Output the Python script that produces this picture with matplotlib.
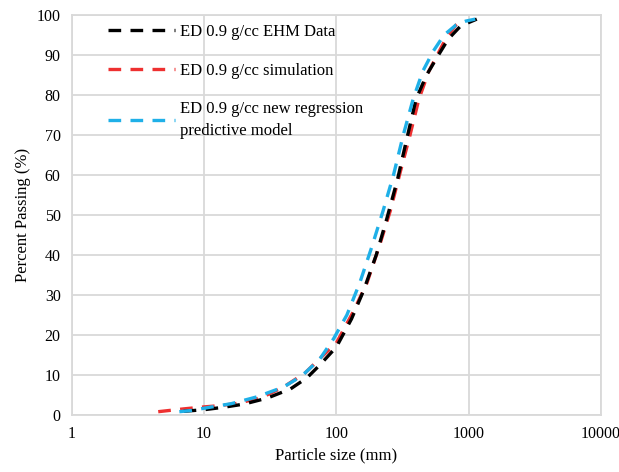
import matplotlib
matplotlib.use('Agg')
import matplotlib.pyplot as plt
from matplotlib.ticker import FixedLocator, FixedFormatter, NullLocator

# EHM data
ehm_x = [7, 10, 14, 20, 30, 45, 60, 75, 100, 130, 160, 200, 240, 290, 340, 400, 480, 590, 700, 870, 1150]
ehm_y = [0.9, 1.3, 1.9, 2.7, 4.2, 6.5, 9.3, 12.5, 17, 24, 31, 40, 49, 59, 69, 79, 85, 90, 94, 97.3, 99]

# simulation
sim_x = [4.5, 7, 10, 13, 18, 27, 40, 58, 80, 100, 135, 170, 210, 255, 305, 360, 420, 500, 600, 680, 800, 900]
sim_y = [0.8, 1.5, 2.0, 2.3, 2.9, 4.3, 7, 10.5, 15, 18, 26, 33, 42, 51, 61, 70, 79, 86, 91, 94.5, 97.5, 99]

# new regression predictive model
reg_x = [6.5, 8, 11, 16, 25, 40, 55, 75, 95, 120, 150, 185, 225, 270, 320, 380, 450, 540, 650, 800, 950, 1120]
reg_y = [0.8, 1.1, 1.9, 2.8, 4.5, 7, 9.8, 14, 19, 25, 33, 42, 51, 60, 70, 79, 86, 91, 95, 97.5, 98.5, 99]

x_ticks = [1, 10, 100, 1000, 10000]
x_labels = ['1', '10', '100', '1000', '10000']
y_ticks = list(range(0, 101, 10))

plt.rcParams['font.family'] = ['Liberation Serif', 'DejaVu Serif']

fig, ax = plt.subplots(figsize=(6.19, 4.72), dpi=100)
fig.subplots_adjust(left=0.116, right=0.971, top=0.968, bottom=0.121)

dash = (3.8, 2.8)
ax.plot(ehm_x, ehm_y, color='black', lw=2.4, dashes=dash, label='ED 0.9 g/cc EHM Data', zorder=4)
ax.plot(sim_x, sim_y, color='#ee3030', lw=2.4, dashes=dash, label='ED 0.9 g/cc simulation', zorder=3)
ax.plot(reg_x, reg_y, color='#1fb0e8', lw=2.4, dashes=dash,
        label='ED 0.9 g/cc new regression\npredictive model', zorder=5)

ax.set_xscale('log')
ax.set_xlim(1, 10000)
ax.set_ylim(0, 100)
ax.xaxis.set_major_locator(FixedLocator(x_ticks))
ax.xaxis.set_major_formatter(FixedFormatter(x_labels))
ax.xaxis.set_minor_locator(NullLocator())
ax.set_yticks(y_ticks)

ax.grid(True, color='#d9d9d9', lw=1.3)
ax.set_axisbelow(True)
for s in ax.spines.values():
    s.set_color('#d9d9d9')
    s.set_linewidth(1.3)
ax.tick_params(length=0, labelsize=11.5, pad=8)

ax.set_xlabel('Particle size (mm)', fontsize=12)
ax.set_ylabel('Percent Passing (%)', fontsize=12)

leg = ax.legend(loc='upper left', bbox_to_anchor=(0.04, 1.015), frameon=False,
                fontsize=12, handlelength=4, handletextpad=0.3, labelspacing=1.35)
for t in leg.get_texts():
    t.set_linespacing(1.45)

plt.savefig('out.png', dpi=100)
